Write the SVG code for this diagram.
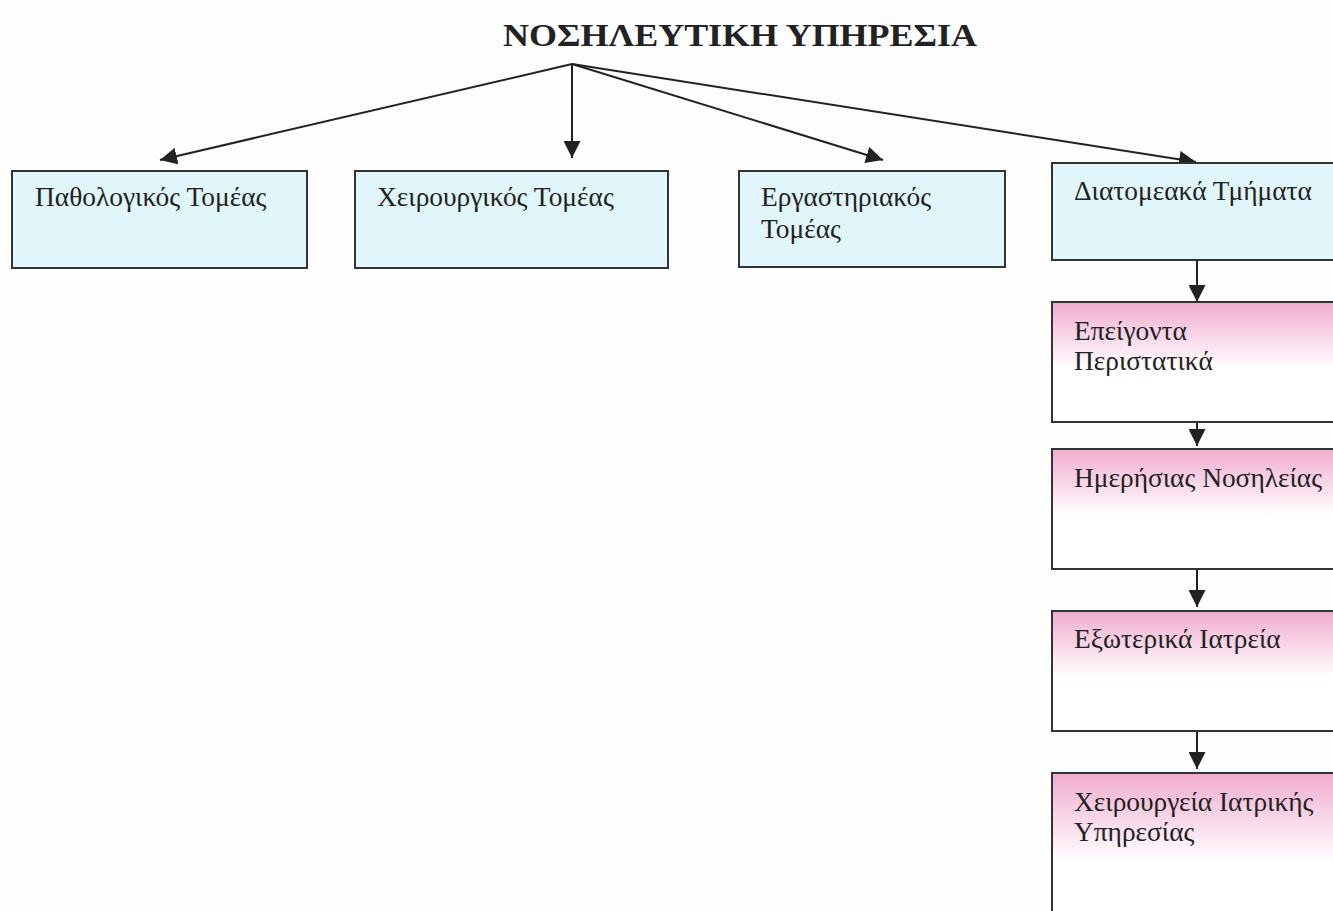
<svg xmlns="http://www.w3.org/2000/svg" width="1333" height="911" viewBox="0 0 1333 911">
<defs>
<marker id="ah" viewBox="0 0 10 10" refX="10" refY="5" markerWidth="17" markerHeight="17" markerUnits="userSpaceOnUse" orient="auto">
<path d="M0,0 L10,5 L0,10 z" fill="#222"/>
</marker>
<linearGradient id="pink" x1="0" y1="0" x2="0" y2="1">
<stop offset="0" stop-color="#f0acce"/>
<stop offset="0.55" stop-color="#ffffff"/>
<stop offset="1" stop-color="#ffffff"/>
</linearGradient>
<style>
.blue{fill:#e1f6fb;stroke:#333;stroke-width:2}
.pk{fill:url(#pink);stroke:#333;stroke-width:2}
.t{font-family:"Liberation Serif","DejaVu Serif",serif;font-size:27.4px;fill:#222}
.title{font-family:"Liberation Serif","DejaVu Serif",serif;font-size:32px;font-weight:bold;fill:#222}
.c{stroke:#222;stroke-width:2;fill:none;marker-end:url(#ah)}
</style>
</defs>
<rect width="1333" height="911" fill="#fdfdfd"/>
<text class="title" x="740" y="46" text-anchor="middle" textLength="474" lengthAdjust="spacingAndGlyphs">ΝΟΣΗΛΕΥΤΙΚΗ ΥΠΗΡΕΣΙΑ</text>
<g id="connectors">
<line class="c" x1="572" y1="64" x2="160" y2="160"/>
<line class="c" x1="572" y1="64" x2="572" y2="158"/>
<line class="c" x1="572" y1="64" x2="883" y2="160"/>
<line class="c" x1="572" y1="64" x2="1196" y2="162"/>
<line class="c" x1="1197" y1="260" x2="1197" y2="302"/>
<line class="c" x1="1197" y1="422" x2="1197" y2="446"/>
<line class="c" x1="1197" y1="557" x2="1197" y2="607"/>
<line class="c" x1="1197" y1="719" x2="1197" y2="769"/>
</g>
<g id="n1"><rect class="blue" x="12" y="171" width="295" height="97"/><text class="t" x="35" y="206">Παθολογικός Τομέας</text></g>
<g id="n2"><rect class="blue" x="355" y="171" width="313" height="97"/><text class="t" x="377" y="206">Χειρουργικός Τομέας</text></g>
<g id="n3"><rect class="blue" x="739" y="171" width="266" height="96"/><text class="t" x="761" y="206">Εργαστηριακός</text><text class="t" x="761" y="238">Τομέας</text></g>
<g id="n4"><rect class="blue" x="1052" y="163" width="300" height="97"/><text class="t" x="1074" y="200">Διατομεακά Τμήματα</text></g>
<g id="n5"><rect class="pk" x="1052" y="302" width="300" height="120"/><text class="t" x="1074" y="340">Επείγοντα</text><text class="t" x="1074" y="370">Περιστατικά</text></g>
<g id="n6"><rect class="pk" x="1052" y="449" width="300" height="120"/><text class="t" x="1074" y="487">Ημερήσιας Νοσηλείας</text></g>
<g id="n7"><rect class="pk" x="1052" y="611" width="300" height="120"/><text class="t" x="1074" y="648">Εξωτερικά Ιατρεία</text></g>
<g id="n8"><rect class="pk" x="1052" y="773" width="300" height="160"/><text class="t" x="1074" y="811">Χειρουργεία Ιατρικής</text><text class="t" x="1074" y="841">Υπηρεσίας</text></g>
</svg>
